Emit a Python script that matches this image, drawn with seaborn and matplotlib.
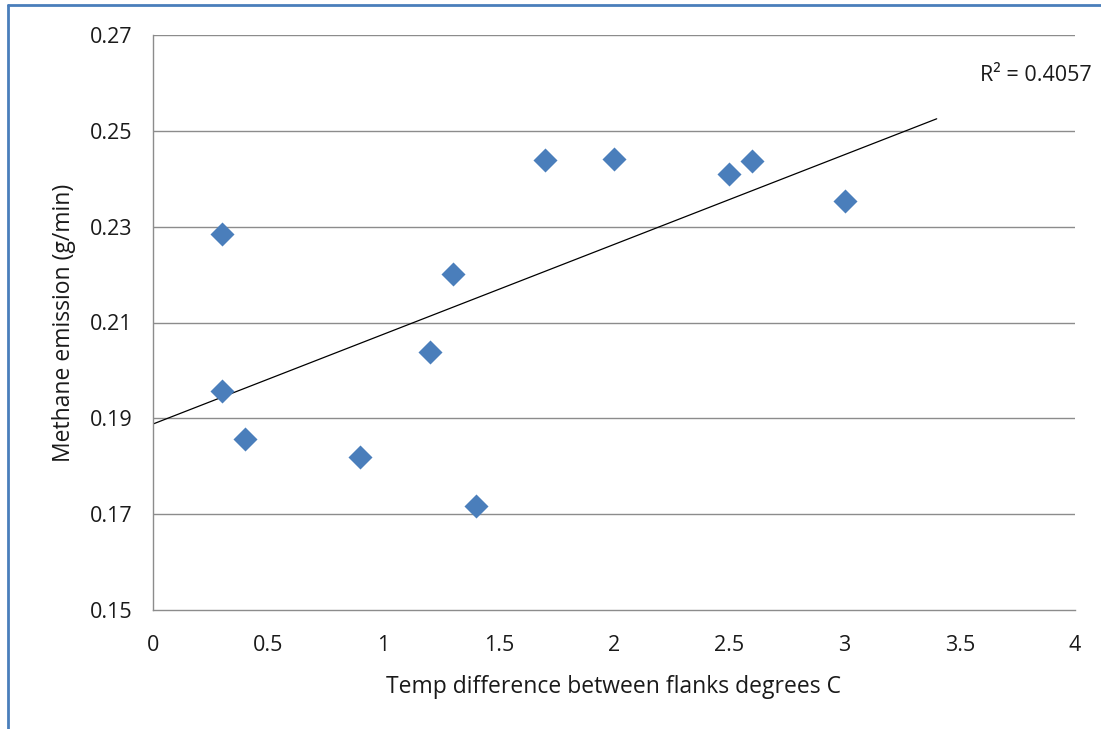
import numpy as np
import pandas as pd
import seaborn as sns
import matplotlib
matplotlib.use("Agg")
import matplotlib.pyplot as plt
from matplotlib.lines import Line2D

temp_diff = [0.3, 0.3, 0.4, 0.9, 1.2, 1.3, 1.4, 1.7, 2.0, 2.5, 2.6, 3.0]
methane = [0.2285, 0.1957, 0.1857, 0.1819, 0.2038, 0.2201, 0.1717, 0.2439, 0.2441, 0.2410, 0.2437, 0.2354]
x_ticks = [0, 0.5, 1, 1.5, 2, 2.5, 3, 3.5, 4]
x_tick_labels = ["0", "0.5", "1", "1.5", "2", "2.5", "3", "3.5", "4"]
y_ticks = [0.15, 0.17, 0.19, 0.21, 0.23, 0.25, 0.27]
y_tick_labels = ["0.15", "0.17", "0.19", "0.21", "0.23", "0.25", "0.27"]
r2_label = "R² = 0.4057"
trend_x_end = 3.4

df = pd.DataFrame({"x": temp_diff, "y": methane})

sns.set_style("white")
plt.rcParams["font.family"] = ["Open Sans", "DejaVu Sans"]

fig = plt.figure(figsize=(11.01, 7.29), dpi=100)
ax = fig.add_axes([153/1101, 1-610/729, (1075-153)/1101, (610-35)/729])

for yv in y_ticks[1:]:
    ax.axhline(yv, color="#8c8c8c", lw=1.0, zorder=0)

slope, intercept = np.polyfit(df["x"], df["y"], 1)
xs = np.array([0, trend_x_end])
ax.plot(xs, slope * xs + intercept, color="black", lw=0.9, zorder=2)

sns.scatterplot(data=df, x="x", y="y", marker="D", s=150, color="#4A7EBB",
                edgecolor="#4A7EBB", linewidth=0, ax=ax, zorder=3)

ax.set_xlim(0, 4)
ax.set_ylim(0.15, 0.27)
ax.set_xticks(x_ticks)
ax.set_xticklabels(x_tick_labels)
ax.set_yticks(y_ticks)
ax.set_yticklabels(y_tick_labels)
ax.tick_params(axis="both", labelsize=15.5, colors="#1a1a1a", length=6, width=1,
               direction="out", color="#8c8c8c")
ax.tick_params(axis="x", pad=12)
ax.tick_params(axis="y", pad=9)
for s in ["top", "right"]:
    ax.spines[s].set_visible(False)
for s in ["left", "bottom"]:
    ax.spines[s].set_color("#8c8c8c")
    ax.spines[s].set_linewidth(1.0)

ax.set_xlabel("Temp difference between flanks degrees C", fontsize=16.5, labelpad=14,
              color="#1a1a1a")
ax.set_ylabel("Methane emission (g/min)", fontsize=16.5, labelpad=10, color="#1a1a1a")

ax.text(3.587, 0.2616, r2_label, fontsize=15.5, ha="left", va="center", color="#1a1a1a")

# blue frame edges
fig.add_artist(Line2D([8/1101, 8/1101], [0, 1-5/729], transform=fig.transFigure,
                      color="#4A7EBB", lw=2))
fig.add_artist(Line2D([8/1101, 1], [1-5/729, 1-5/729], transform=fig.transFigure,
                      color="#4A7EBB", lw=2))

fig.savefig("out.png", dpi=100)
